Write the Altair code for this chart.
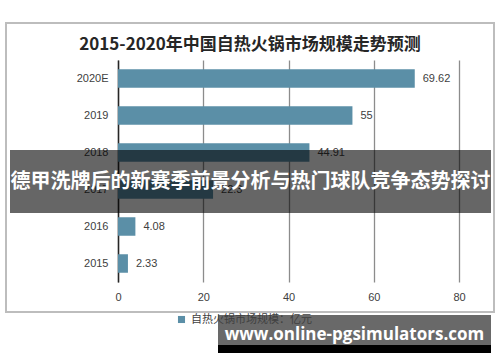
import altair as alt
import pandas as pd

categories = ["2020E", "2019", "2018", "2017", "2016", "2015"]
values = [69.62, 55, 44.91, 22.3, 4.08, 2.33]
labels = ["69.62", "55", "44.91", "22.3", "4.08", "2.33"]
x_ticks = [0, 20, 40, 60, 80]
title_text = "2015-2020年中国自热火锅市场规模走势预测"
series_name = "自热火锅市场规模：亿元"
banner_text = "德甲洗牌后的新赛季前景分析与热门球队竞争态势探讨"
watermark_text = "www.online-pgsimulators.com"

BAR = "#5b8fa7"
CJK = "Noto Sans CJK SC"

df = pd.DataFrame({"cat": categories, "val": values, "lab": labels, "series": [series_name] * len(categories)})

W, H = 341, 222

base = alt.Chart(df)

bars = base.mark_bar(color=BAR).encode(
    y=alt.Y("cat:N", sort=categories, title=None,
            scale=alt.Scale(paddingInner=0.5, paddingOuter=0.25),
            axis=alt.Axis(labelFont="Liberation Sans", labelFontSize=11, labelColor="#404040",
                          ticks=False, domainColor="#262626", domainWidth=1.5, labelPadding=10)),
    x=alt.X("val:Q", title=None, scale=alt.Scale(domain=[0, 80], nice=False),
            axis=alt.Axis(values=x_ticks, grid=True, gridColor="#8c8c8c", gridWidth=1.3,
                          domain=False, ticks=False, labelFont="Liberation Sans", labelFlush=False,
                          labelFontSize=11, labelColor="#404040", labelPadding=9)),
    color=alt.Color("series:N", scale=alt.Scale(range=[BAR]),
                    legend=alt.Legend(orient="none", legendX=58, legendY=254, title=None,
                                      symbolType="square", symbolSize=50, labelFont=CJK,
                                      labelFontSize=11, labelColor="#404040", symbolStrokeWidth=0)),
)

text = base.mark_text(align="left", dx=8, font="Liberation Sans", fontSize=11, color="#404040").encode(
    y=alt.Y("cat:N", sort=categories),
    x="val:Q",
    text="lab:N",
)

frame = alt.Chart(pd.DataFrame({"a": [0]})).mark_rect(filled=False, stroke="#bdbdbd", strokeWidth=2).encode(
    x=alt.value(-112), x2=alt.value(376), y=alt.value(-37), y2=alt.value(252))

title = alt.Chart(pd.DataFrame({"t": [title_text]})).mark_text(
    font=CJK, fontSize=17, fontWeight="bold", color="#262626").encode(
    x=alt.value(132), y=alt.value(-15), text="t:N")

band = alt.Chart(pd.DataFrame({"a": [0]})).mark_rect(fill="black", opacity=0.6).encode(
    x=alt.value(-108), x2=alt.value(373), y=alt.value(90), y2=alt.value(153))

band_text = alt.Chart(pd.DataFrame({"t": [banner_text]})).mark_text(
    font=CJK, fontSize=20, fontWeight="bold", color="white").encode(
    x=alt.value(132.5), y=alt.value(122), text="t:N")

wm_gray = alt.Chart(pd.DataFrame({"a": [0]})).mark_rect(fill="#444444", opacity=0.8).encode(
    x=alt.value(100), x2=alt.value(373), y=alt.value(255), y2=alt.value(285))
wm_black = alt.Chart(pd.DataFrame({"a": [0]})).mark_rect(fill="black").encode(
    x=alt.value(100), x2=alt.value(373), y=alt.value(285), y2=alt.value(293))
wm_text = alt.Chart(pd.DataFrame({"t": [watermark_text]})).mark_text(
    font="Open Sans", fontSize=17, fontWeight="bold", color="white").encode(
    x=alt.value(236.5), y=alt.value(275), text="t:N")

chart = alt.layer(frame, title, bars, text, band, band_text, wm_gray, wm_black, wm_text).properties(
    width=W, height=H,
    autosize=alt.AutoSizeParams(type="none"),
    padding={"left": 118, "top": 60, "right": 41, "bottom": 80},
).configure_view(stroke=None)

chart.save("out.html", embed_options={"renderer": "svg", "actions": False})
